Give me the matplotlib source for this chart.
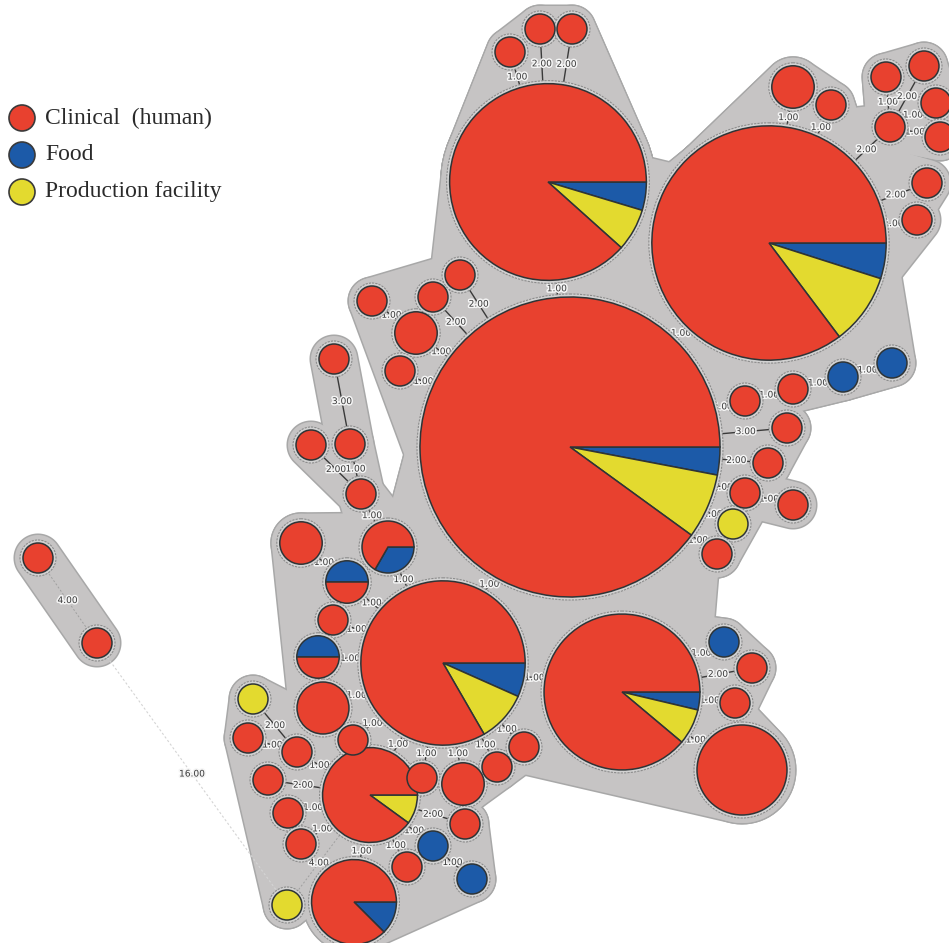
import numpy as np
import matplotlib.pyplot as plt
from matplotlib.patches import Circle, Polygon
import matplotlib.patheffects as pe

categories = ['Clinical  (human)', 'Food', 'Production facility']
colors = ['#e8412f', '#1c5aa8', '#e3da2f']

# isolate counts per node
clinical = [90, 38, 52, 25, 24, 9, 7,
            1, 1, 1, 2, 1, 1, 1, 1, 1, 1, 1, 1,
            1, 1, 0, 0, 1, 1, 1, 1, 0, 1,
            1, 2, 1, 1, 1,
            1, 1, 1, 1, 2, 2, 1, 1, 1, 3,
            0, 1, 1, 1, 1, 1, 1, 0,
            1, 2, 1, 1, 1, 0, 0, 1,
            0, 1, 1, 9, 1, 1]
food = [3, 2, 3, 2, 1, 0, 1,
        0, 0, 0, 0, 0, 0, 0, 0, 0, 0, 0, 0,
        0, 0, 1, 1, 0, 0, 0, 0, 0, 0,
        0, 0, 0, 0, 0,
        0, 0, 0, 0, 1, 0, 1, 0, 1, 0,
        0, 0, 0, 0, 0, 0, 0, 0,
        0, 0, 0, 0, 0, 1, 1, 0,
        1, 0, 0, 0, 0, 0]
production = [7, 3, 6, 3, 2, 1, 0,
              0, 0, 0, 0, 0, 0, 0, 0, 0, 0, 0, 0,
              0, 0, 0, 0, 0, 0, 0, 0, 1, 0,
              0, 0, 0, 0, 0,
              0, 0, 0, 0, 0, 0, 0, 0, 0, 0,
              1, 0, 0, 0, 0, 0, 0, 1,
              0, 0, 0, 0, 0, 0, 0, 0,
              0, 0, 0, 0, 0, 0]

# layout of the spanning tree (pixel positions of node centres)
node_x = [570, 548, 769, 443, 622, 370, 354,
          510, 540, 572, 793, 831, 890, 886, 924, 936, 940, 927, 917,
          745, 793, 843, 892, 787, 768, 745, 793, 733, 717,
          372, 416, 433, 460, 400,
          334, 350, 311, 361, 388, 301, 347, 333, 318, 323,
          253, 248, 297, 353, 268, 288, 301, 287,
          422, 463, 497, 524, 465, 433, 472, 407,
          724, 752, 735, 742, 38, 97]
node_y = [447, 182, 243, 663, 692, 795, 902,
          52, 29, 29, 87, 105, 127, 77, 66, 103, 137, 183, 220,
          401, 389, 377, 363, 428, 463, 493, 505, 524, 554,
          301, 333, 297, 275, 371,
          359, 444, 445, 494, 547, 543, 582, 620, 657, 708,
          699, 738, 752, 740, 780, 813, 844, 905,
          778, 784, 767, 747, 824, 846, 879, 867,
          642, 668, 703, 770, 558, 643]
pie_start = {40: 180, 42: 180}

edge_a = [1, 2, 1, 1, 1, 2, 2, 2, 12, 12, 12, 12, 2, 2,
          0, 19, 20, 21, 0, 0, 0, 25, 0, 0,
          0, 30, 0, 0, 0,
          34, 35, 36, 37, 38, 39, 40, 41, 42, 43,
          0, 3, 4, 4, 4, 4,
          47, 52, 53, 54, 55, 5, 44, 45, 46, 48, 49, 50, 51,
          5, 5, 5, 57, 5, 64, 65]
edge_b = [0, 0, 7, 8, 9, 10, 11, 12, 13, 14, 15, 16, 17, 18,
          19, 20, 21, 22, 23, 24, 25, 26, 27, 28,
          30, 29, 31, 32, 33,
          35, 37, 37, 38, 3, 40, 3, 3, 3, 3,
          3, 4, 60, 61, 62, 63,
          3, 3, 3, 3, 3, 3, 46, 46, 5, 5, 5, 5, 5,
          6, 56, 57, 58, 59, 65, 51]
edge_dist = [1, 1, 1, 2, 2, 1, 1, 2, 1, 2, 1, 1, 2, 1,
             1, 1, 1, 1, 3, 2, 1, 1, 1, 1,
             1, 1, 2, 2, 1,
             3, 1, 2, 1, 1, 1, 1, 1, 1, 1,
             1, 1, 1, 2, 1, 1,
             1, 1, 1, 1, 1, 1, 2, 1, 1, 2, 1, 1, 4,
             1, 2, 1, 1, 1, 4, 16]

# groups of nodes sharing one grey cluster area; "core" nodes only lend their inner part
hull_groups = [[1, 7, 8, 9], [0, 1, 2], [2, 10, 11], [12, 13, 14, 15, 16],
               [2, 19, 20, 21, 22], [0, 2, 19], [0, 23, 24, 25, 27, 28],
               [0, 3, 4], [4, 60, 61, 62], [3, 4, 63],
               [3, 5, 52, 53, 54, 55], [5, 56, 58, 59, 6],
               [3, 38, 39, 40, 41, 42, 43], [5, 44, 45, 46, 48, 49, 50, 51],
               [0, 29, 30, 31, 32, 33]]
hull_cores = [[], [1, 2], [], [], [], [], [], [], [], [], [], [], [], [], []]

totals = np.array(clinical) + np.array(food) + np.array(production)
radius = 15 * np.sqrt(totals)
n_nodes = len(totals)


def circle_pts(i, pad, scale=1.0, n=72):
    t = np.linspace(0, 2 * np.pi, n, endpoint=False)
    r = radius[i] * scale + pad
    return np.column_stack([node_x[i] + r * np.cos(t), node_y[i] + r * np.sin(t)])


def convex_hull(points):
    pts = sorted(set(map(tuple, np.round(points, 3))))

    def cross(o, a, b):
        return (a[0] - o[0]) * (b[1] - o[1]) - (a[1] - o[1]) * (b[0] - o[0])
    lower, upper = [], []
    for p in pts:
        while len(lower) >= 2 and cross(lower[-2], lower[-1], p) <= 0:
            lower.pop()
        lower.append(p)
    for p in reversed(pts):
        while len(upper) >= 2 and cross(upper[-2], upper[-1], p) <= 0:
            upper.pop()
        upper.append(p)
    return np.array(lower[:-1] + upper[:-1])


fig = plt.figure(figsize=(9.49, 9.43), dpi=100)
ax = fig.add_axes([0, 0, 1, 1])

# grey cluster areas
pad = 8
shapes = []
for g, core in zip(hull_groups, hull_cores):
    pts = [circle_pts(i, pad, 0.4 if i in core else 1.0) for i in g]
    shapes.append(convex_hull(np.vstack(pts)))
for a, b, d in zip(edge_a, edge_b, edge_dist):
    if d < 10:
        shapes.append(convex_hull(np.vstack([circle_pts(a, pad), circle_pts(b, pad)])))
for s in shapes:
    ax.add_patch(Polygon(s, closed=True, fc='#c6c4c4', ec='#a8a8a8', lw=2.2, zorder=1))
for s in shapes:
    ax.add_patch(Polygon(s, closed=True, fc='#c6c4c4', ec='none', zorder=1.5))

# edges with distance labels
for a, b, d in zip(edge_a, edge_b, edge_dist):
    x1, y1, x2, y2 = node_x[a], node_y[a], node_x[b], node_y[b]
    L = np.hypot(x2 - x1, y2 - y1)
    ux, uy = (x2 - x1) / L, (y2 - y1) / L
    if d >= 10:
        ax.plot([x1, x2], [y1, y2], color='#d4d4d4', lw=0.8, ls=(0, (2, 2)), zorder=2)
    elif d >= 4:
        ax.plot([x1, x2], [y1, y2], color='#a0a0a0', lw=0.7, ls=(0, (2, 2)), zorder=2)
    else:
        ax.plot([x1, x2], [y1, y2], color='#3a3a3a', lw=1.0, zorder=2)
    s1 = radius[a] + 0.5 * (L - radius[a] - radius[b])
    ax.text(x1 + ux * s1, y1 + uy * s1, f'{d:.2f}', fontsize=6.5, color='#3a3a3a',
            ha='center', va='center', zorder=3,
            path_effects=[pe.withStroke(linewidth=2.2, foreground='#f4f4f4')])

# nodes as pie charts
for i in range(n_nodes):
    ax.add_patch(Circle((node_x[i], node_y[i]), radius[i] + 3, fc='#d2d2d2',
                        ec='#8c8c8c', lw=0.8, ls=(0, (2, 1)), zorder=4))
    vals = [food[i], production[i], clinical[i]]
    cols = [colors[1], colors[2], colors[0]]
    keep = [k for k in range(3) if vals[k] > 0]
    ax.pie([vals[k] for k in keep], colors=[cols[k] for k in keep],
           center=(node_x[i], node_y[i]), radius=radius[i],
           startangle=pie_start.get(i, 0), counterclock=True, frame=True,
           wedgeprops=dict(edgecolor='#2e3436', linewidth=1.1, zorder=5))

# legend
for k, lab in enumerate(categories):
    y = 118 + 37 * k
    ax.add_patch(Circle((22, y), 13, fc=colors[k], ec='#3a3a3a', lw=1.2, zorder=5))
    ax.text(45, y, lab, fontsize=17, family='Liberation Serif', color='#2a2a2a',
            ha='left', va='center', zorder=5)

ax.set_xlim(0, 949)
ax.set_ylim(943, 0)
ax.set_aspect('equal')
ax.axis('off')
fig.savefig('out.png', dpi=100)
